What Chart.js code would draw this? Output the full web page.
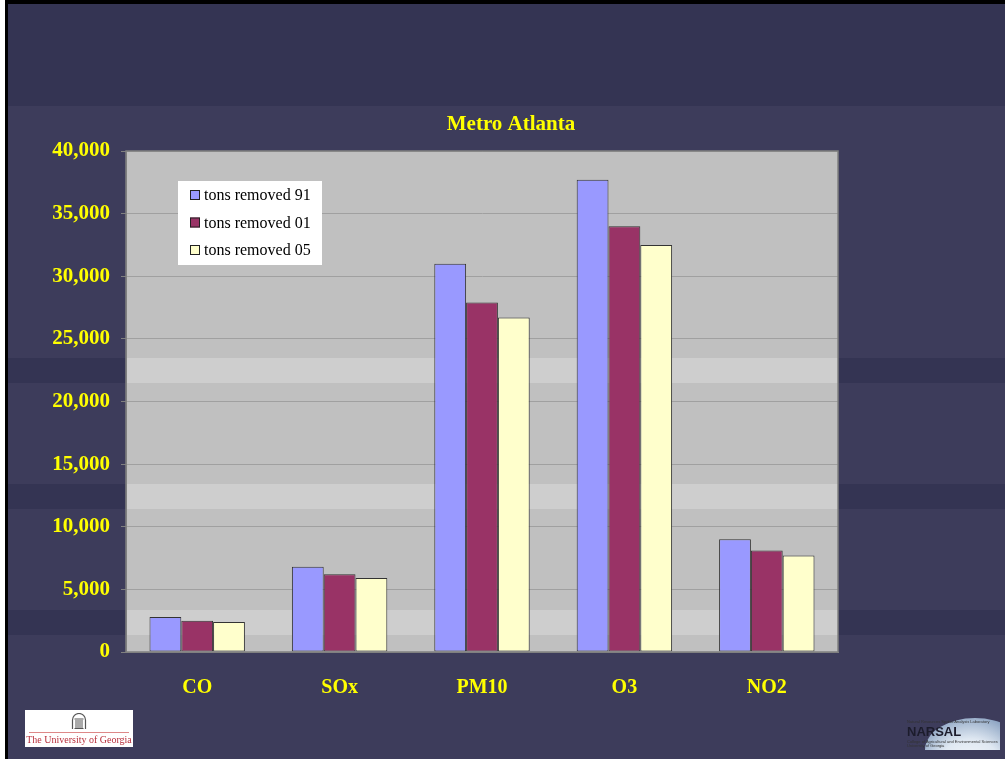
<!DOCTYPE html>
<html>
<head>
<meta charset="utf-8">
<script src="https://cdn.jsdelivr.net/npm/chart.js@4.4.1/dist/chart.umd.min.js"></script>
<style>
  html, body { margin: 0; padding: 0; background: #fff; }
  #slide {
    position: absolute; left: 5px; top: 0; width: 1000px; height: 759px;
    border-left: 3px solid #000; border-top: 4px solid #000; box-sizing: border-box;
    background: linear-gradient(to bottom,
      #343453 0px, #343453 102px,
      #3d3c5b 102px, #3d3c5b 354px,
      #343453 354px, #343453 379px,
      #3d3c5b 379px, #3d3c5b 480px,
      #343453 480px, #343453 505px,
      #3d3c5b 505px, #3d3c5b 606px,
      #343453 606px, #343453 631px,
      #3d3c5b 631px, #3d3c5b 759px);
  }
  #wrap { position: absolute; left: 0; top: 0; width: 1005px; height: 759px; }
  .uga { position: absolute; left: 25px; top: 710px; width: 108px; height: 37px; background: #fff;
    font-family: "Liberation Serif", serif; color: #b8303c; font-size: 10px; text-align: center; }
  .uga .rule { position: absolute; left: 4px; right: 4px; top: 22px; height: 1px; background: #d88; }
  .uga .name { position: absolute; left: 0; right: 0; top: 24px; white-space: nowrap; }
  .narsal { position: absolute; left: 905px; top: 716px; width: 95px; height: 34px; overflow: hidden; }
  .narsal .dome { position: absolute; left: 20px; top: 2px; width: 100px; height: 64px; border-radius: 50% 50% 0 0;
    background: radial-gradient(ellipse at 45% 90%, #ffffff 0%, #dfe8f2 45%, #8fa6c4 75%, #3d3c5b 100%); }
  .narsal .t { position: absolute; left: 2px; top: 8px; font-family: "Liberation Sans", sans-serif; font-weight: bold;
    font-size: 13px; color: #1c1c2c; }
  .narsal .s { position: absolute; left: 2px; font-family: "Liberation Sans", sans-serif; font-size: 4px; color: #333; white-space: nowrap; }
</style>
</head>
<body>
<div id="slide"></div>
<div id="wrap"><canvas id="chart" width="1005" height="759"></canvas></div>
<div class="uga">
  <svg width="16" height="17" viewBox="0 0 16 17" style="position:absolute;left:46px;top:3px">
    <path d="M1.5 16 V7 A6.5 6.5 0 0 1 14.5 7 V16" fill="none" stroke="#555" stroke-width="1.2"/>
    <path d="M5 15 V7 M7 15 V7 M9 15 V7 M11 15 V7 M3.5 6 H12.5 M3.5 15.5 H12.5" stroke="#555" stroke-width="1"/>
  </svg>
  <div class="rule"></div>
  <div class="name">The University of Georgia</div>
</div>
<div class="narsal">
  <div class="dome"></div>
  <div class="s" style="top:3px">Natural Resources Spatial Analysis Laboratory</div>
  <div class="t">NARSAL</div>
  <div class="s" style="top:23px">College of Agricultural and Environmental Sciences</div>
  <div class="s" style="top:27px">University of Georgia</div>
</div>
<script>
const chartTitle = "Metro Atlanta";
const categories = ["CO", "SOx", "PM10", "O3", "NO2"];
const seriesLabels = ["tons removed 91", "tons removed 01", "tons removed 05"];
const tons91 = [2800, 6800, 31000, 37700, 9000];
const tons01 = [2500, 6200, 27900, 34000, 8100];
const tons05 = [2400, 5900, 26700, 32500, 7700];
const yMin = 0, yMax = 40000, yStep = 5000;

const colors = ["#9999ff", "#993366", "#ffffcc"];
const yellow = "#ffff00";
const serif = "'Liberation Serif', 'Times New Roman', serif";

// slide-like plot backdrop, title and boxed legend
const slidePlugin = {
  id: "slidePlugin",
  beforeDraw(chart) {
    const { ctx, chartArea: a } = chart;
    ctx.save();
    ctx.fillStyle = "#c0c0c0";
    ctx.fillRect(a.left, a.top, a.right - a.left, a.bottom - a.top);
    // lighter stripes from the slide background show through
    ctx.fillStyle = "#cecece";
    [[358, 383], [484, 509], [610, 635]].forEach(([y0, y1]) => {
      ctx.fillRect(a.left, y0, a.right - a.left, y1 - y0);
    });
    ctx.restore();
  },
  afterDraw(chart) {
    const { ctx, chartArea: a } = chart;
    ctx.save();
    // plot frame
    ctx.strokeStyle = "#808080";
    ctx.lineWidth = 1.5;
    ctx.strokeRect(a.left, a.top, a.right - a.left, a.bottom - a.top);

    // title
    ctx.fillStyle = yellow;
    ctx.font = "bold 21px " + serif;
    ctx.textAlign = "center";
    ctx.textBaseline = "middle";
    ctx.fillText(chartTitle, 511, 125);

    // legend
    const bx = a.left + 52, by = a.top + 30, bw = 144, bh = 84;
    ctx.fillStyle = "#ffffff";
    ctx.fillRect(bx, by, bw, bh);
    ctx.font = "16px " + serif;
    ctx.textAlign = "left";
    chart.data.datasets.forEach((ds, i) => {
      const y = by + 14 + i * 27.5;
      ctx.fillStyle = ds.backgroundColor;
      ctx.fillRect(bx + 12, y - 5, 10, 10);
      ctx.strokeStyle = "#222";
      ctx.lineWidth = 1;
      ctx.strokeRect(bx + 12.5, y - 4.5, 9, 9);
      ctx.fillStyle = "#000";
      ctx.fillText(ds.label, bx + 26, y + 1);
    });
    ctx.restore();
  }
};

new Chart(document.getElementById("chart"), {
  type: "bar",
  data: {
    labels: categories,
    datasets: [
      { label: seriesLabels[0], data: tons91, backgroundColor: colors[0] },
      { label: seriesLabels[1], data: tons01, backgroundColor: colors[1] },
      { label: seriesLabels[2], data: tons05, backgroundColor: colors[2] }
    ].map(d => Object.assign(d, { borderColor: "#333", borderWidth: 1, borderSkipped: false }))
  },
  options: {
    responsive: false,
    animation: false,
    layout: { padding: { left: 26, right: 167, top: 151, bottom: 40 } },
    datasets: { bar: { categoryPercentage: 0.67, barPercentage: 1 } },
    plugins: {
      legend: { display: false },
      title: { display: false },
      tooltip: { enabled: false }
    },
    scales: {
      x: {
        afterFit(s) { s.height = 67; },
        grid: { display: false },
        border: { color: "#808080" },
        ticks: { color: yellow, padding: 16, font: { family: serif, size: 20, weight: "bold" } }
      },
      y: {
        min: yMin,
        max: yMax,
        afterFit(s) { s.width = 100; },
        grid: { color: "#a0a0a0", lineWidth: 1, tickLength: 5, tickColor: "#808080" },
        border: { color: "#808080" },
        ticks: {
          stepSize: yStep,
          color: yellow,
          padding: 11,
          font: { family: serif, size: 21, weight: "bold" },
          callback: v => v.toLocaleString("en-US")
        }
      }
    }
  },
  plugins: [slidePlugin]
});
</script>
</body>
</html>
